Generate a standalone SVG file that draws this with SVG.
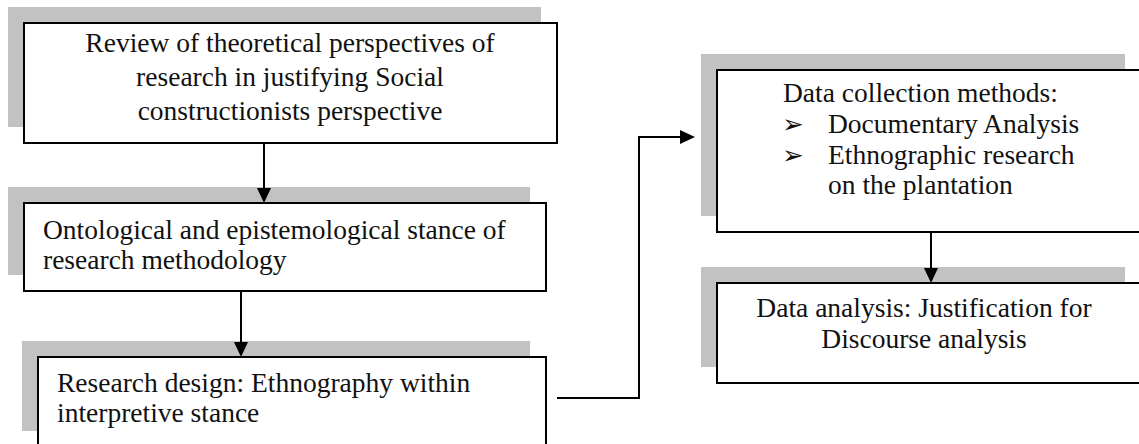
<svg xmlns="http://www.w3.org/2000/svg" width="1139" height="444" viewBox="0 0 1139 444">
  <style>
    .shadow { fill: #c2c2c2; }
    .box { fill: #ffffff; stroke: #000000; stroke-width: 2; }
    .label { font-family: "Liberation Serif", "Times New Roman", serif; font-size: 27.5px; fill: #111111; }
    .mid { text-anchor: middle; }
    .bullet { font-family: "DejaVu Sans", sans-serif; font-size: 26px; fill: #111111; }
    .wire { fill: none; stroke: #000000; stroke-width: 2; }
  </style>
  <defs>
    <marker id="arrow" markerUnits="userSpaceOnUse" viewBox="0 0 15 14" refX="5" refY="7" markerWidth="15" markerHeight="14" orient="auto">
      <path d="M0,0 L15,7 L0,14 z" fill="#000000"/>
    </marker>
  </defs>

  <!-- theoretical perspectives -->
  <g id="node-review">
    <rect class="shadow" x="8" y="7" width="533" height="120"/>
    <rect class="box" x="24" y="23" width="533" height="120"/>
    <text class="label mid" x="290" y="52">Review of theoretical perspectives of</text>
    <text class="label mid" x="290" y="86">research in justifying Social</text>
    <text class="label mid" x="290" y="120">constructionists perspective</text>
  </g>

  <!-- ontology / epistemology -->
  <g id="node-stance">
    <rect class="shadow" x="8" y="187" width="522" height="88"/>
    <rect class="box" x="24" y="203" width="522" height="88"/>
    <text class="label" x="43" y="239">Ontological and epistemological stance of</text>
    <text class="label" x="43" y="269">research methodology</text>
  </g>

  <!-- research design -->
  <g id="node-design">
    <rect class="shadow" x="22" y="341" width="508" height="90"/>
    <rect class="box" x="38" y="357" width="508" height="90"/>
    <text class="label" x="57" y="392">Research design: Ethnography within</text>
    <text class="label" x="57" y="422">interpretive stance</text>
  </g>

  <!-- data collection -->
  <g id="node-collection">
    <rect class="shadow" x="701" y="54" width="424" height="162"/>
    <rect class="box" x="717" y="70" width="424" height="162"/>
    <text class="label" x="783" y="102">Data collection methods:</text>
    <text class="bullet" x="782" y="133">➢</text>
    <text class="label" x="828" y="133">Documentary Analysis</text>
    <text class="bullet" x="782" y="164">➢</text>
    <text class="label" x="828" y="164">Ethnographic research</text>
    <text class="label" x="828" y="194">on the plantation</text>
  </g>

  <!-- data analysis -->
  <g id="node-analysis">
    <rect class="shadow" x="701" y="267" width="424" height="100"/>
    <rect class="box" x="717" y="283" width="424" height="100"/>
    <text class="label mid" x="924" y="317">Data analysis: Justification for</text>
    <text class="label mid" x="924" y="348">Discourse analysis</text>
  </g>

  <!-- connectors, drawn over the shadows -->
  <g id="connectors">
    <path class="wire" d="M264,143 V193" marker-end="url(#arrow)"/>
    <path class="wire" d="M241,291 V347" marker-end="url(#arrow)"/>
    <path class="wire" d="M557,398 H639 V137 H685" marker-end="url(#arrow)"/>
    <path class="wire" d="M931,232 V273" marker-end="url(#arrow)"/>
  </g>
</svg>
